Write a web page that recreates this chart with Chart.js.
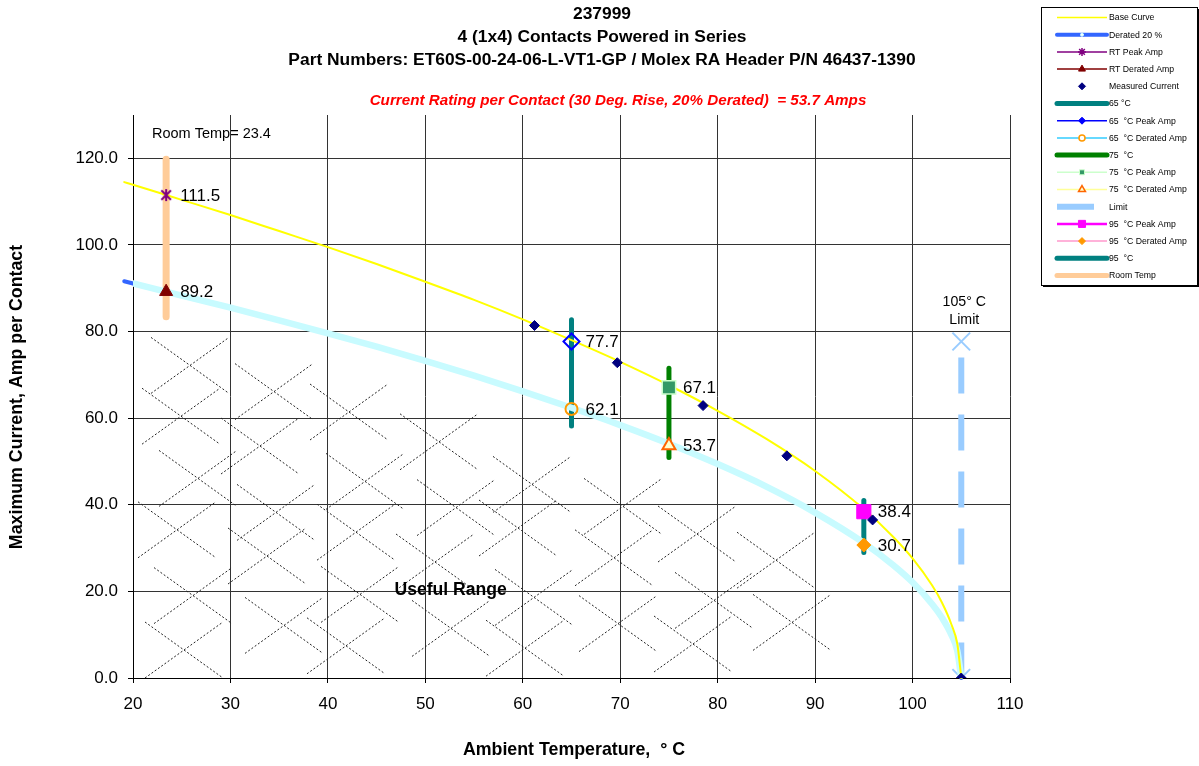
<!DOCTYPE html>
<html>
<head>
<meta charset="utf-8">
<script src="https://cdn.jsdelivr.net/npm/chart.js@4.4.0/dist/chart.umd.min.js"></script>
<style>
  html, body { margin: 0; padding: 0; background: #fff; }
</style>
</head>
<body>
<canvas id="chart" width="1199" height="766"></canvas>
<script>
// temperatures (deg C) for the two rating curves
const temps = [19.1, 20, 25, 30, 35, 40, 45, 50, 55, 60, 65, 70, 75, 80, 85, 90, 95, 98, 100, 102, 103, 104, 104.6, 105];
const baseCurve = [114.5, 113.9, 110.4, 106.9, 103.2, 99.5, 95.6, 91.5, 87.3, 82.8, 78.0, 73.0, 67.6, 61.7, 55.2, 47.8, 39.0, 32.6, 27.6, 21.4, 17.5, 12.3, 7.8, 0];
const derated = [91.6, 91.1, 88.3, 85.5, 82.6, 79.6, 76.5, 73.2, 69.8, 66.2, 62.4, 58.4, 54.1, 49.4, 44.2, 38.2, 31.2, 26.1, 22.1, 17.1, 14.0, 9.9, 6.2, 0];

const measuredT = [61.2, 69.7, 78.5, 87.1, 95.9, 105];
const measuredA = [81.4, 72.8, 62.9, 51.3, 36.5, 0];

const roomTemp = 23.4;
const roomBar = [83.4, 119.8];
const rtPeak = 111.5;
const rtDerated = 89.2;

const bar65 = [58.2, 82.7];
const peak65 = 77.7;
const derated65 = 62.1;

const bar75 = [50.9, 71.5];
const peak75 = 67.1;
const derated75 = 53.7;

const bar95 = [29.0, 41.0];
const peak95 = 38.4;
const derated95 = 30.7;

const limitT = 105;
const limitRange = [77.7, 0];

const xTicks = [20, 30, 40, 50, 60, 70, 80, 90, 100, 110];
const yTicks = [0, 20, 40, 60, 80, 100, 120];

const FONT = "'Liberation Sans', Arial, Helvetica, sans-serif";

function pts(xs, ys) {
  return xs.map((x, i) => ({ x: x, y: ys[i] }));
}
function vbar(t, range) {
  return range.map(v => ({ x: t, y: v }));
}

// excel style asterisk marker (x plus a vertical stroke)
function asterisk(color, size) {
  const c = document.createElement('canvas');
  c.width = size; c.height = size;
  const g = c.getContext('2d');
  const h = size / 2, r = size / 2 - 1;
  g.strokeStyle = color;
  g.lineWidth = 2;
  g.beginPath();
  g.moveTo(h, h - r); g.lineTo(h, h + r);
  g.moveTo(h - r * 0.8, h - r * 0.8); g.lineTo(h + r * 0.8, h + r * 0.8);
  g.moveTo(h - r * 0.8, h + r * 0.8); g.lineTo(h + r * 0.8, h - r * 0.8);
  g.stroke();
  return c;
}

function lineSet(label, data, color, width, order, extra) {
  return Object.assign({
    label: label, data: data, showLine: true, borderColor: color, backgroundColor: color,
    borderWidth: width, pointRadius: 0, order: order, borderCapStyle: 'round'
  }, extra || {});
}
function markerSet(label, data, style, radius, fill, stroke, bw, order) {
  return {
    label: label, data: data, showLine: false, pointStyle: style, pointRadius: radius,
    pointBackgroundColor: fill, pointBorderColor: stroke, pointBorderWidth: bw,
    backgroundColor: fill, borderColor: stroke, order: order, dataLabel: true
  };
}

const datasets = [
  markerSet('RT Peak Amp', [{ x: roomTemp, y: rtPeak }], asterisk('#800080', 14), 7, '#800080', '#800080', 2, 1),
  markerSet('RT Derated Amp', [{ x: roomTemp, y: rtDerated }], 'triangle', 7.5, '#800000', '#800000', 1, 1),
  markerSet('65 °C Peak Amp', [{ x: 65, y: peak65 }], 'rectRot', 8, 'rgba(0,0,0,0)', '#0000ff', 2, 1),
  markerSet('65 °C Derated Amp', [{ x: 65, y: derated65 }], 'circle', 6, 'rgba(0,0,0,0)', '#ff9900', 2, 1),
  markerSet('75 °C Peak Amp', [{ x: 75, y: peak75 }], 'rect', 9.5, '#339966', '#ccffcc', 1.5, 1),
  markerSet('75 °C Derated Amp', [{ x: 75, y: derated75 }], 'triangle', 7.5, '#ffffcc', '#ff6600', 2, 1),
  markerSet('95 °C Peak Amp', [{ x: 95, y: peak95 }], 'rect', 10, '#ff00ff', '#ff00ff', 1, 1),
  markerSet('95 °C Derated Amp', [{ x: 95, y: derated95 }], 'rectRot', 7, '#ff9900', '#ff9900', 1, 1),
  {
    label: 'Measured Current', data: pts(measuredT, measuredA), showLine: false, pointStyle: 'rectRot',
    pointRadius: 5, pointBackgroundColor: '#000080', pointBorderColor: '#000080', pointBorderWidth: 1, order: 0
  },
  lineSet('Base Curve', pts(temps, baseCurve), '#ffff00', 2, 3, { cubicInterpolationMode: 'monotone', clip: false }),
  lineSet('Derated 20 % cyan', pts(temps.slice(1), derated.slice(1)), '#c8fbff', 6.5, 4, { cubicInterpolationMode: 'monotone' }),
  lineSet('Derated 20 %', pts(temps, derated), '#3366ff', 4, 5, { cubicInterpolationMode: 'monotone', clip: false }),
  lineSet('65 °C', vbar(65, bar65), '#008080', 5, 6),
  lineSet('75 °C', vbar(75, bar75), '#008000', 5, 6),
  lineSet('95 °C', vbar(95, bar95), '#008080', 5, 6),
  lineSet('Room Temp', vbar(roomTemp, roomBar), '#ffcc99', 7, 6),
  lineSet('Limit', vbar(limitT, limitRange), '#99ccff', 6, 7, {
    borderDash: [36, 21], borderDashOffset: 41, borderCapStyle: 'butt',
    pointStyle: 'crossRot', pointRadius: 12.5, pointBorderColor: '#99ccff', pointBorderWidth: 2
  })
];

// legend rows as in the reference box
const legendItems = [
  { text: 'Base Curve', line: '#ffff00', lw: 1.5 },
  { text: 'Derated 20 %', line: '#3366ff', lw: 4, m: { s: 'circle', r: 1.5, f: '#ffffff', c: '#ccffff', bw: 1 } },
  { text: 'RT Peak Amp', line: '#800080', lw: 1.5, m: { s: 'star', r: 4, f: '#800080', c: '#800080', bw: 1.5 } },
  { text: 'RT Derated Amp', line: '#800000', lw: 1.5, m: { s: 'triangle', r: 4, f: '#800000', c: '#800000', bw: 1 } },
  { text: 'Measured Current', m: { s: 'rectRot', r: 3.5, f: '#000080', c: '#000080', bw: 1 } },
  { text: '65 °C', line: '#008080', lw: 5 },
  { text: '65  °C Peak Amp', line: '#0000ff', lw: 1.5, m: { s: 'rectRot', r: 3.5, f: '#0000ff', c: '#0000ff', bw: 1 } },
  { text: '65  °C Derated Amp', line: '#33ccff', lw: 1.5, m: { s: 'circle', r: 3, f: '#ffffff', c: '#ff9900', bw: 1.5 } },
  { text: '75  °C', line: '#008000', lw: 5 },
  { text: '75  °C Peak Amp', line: '#ccffcc', lw: 1.5, m: { s: 'rect', r: 3.5, f: '#339966', c: '#ccffcc', bw: 1 } },
  { text: '75  °C Derated Amp', line: '#ffff99', lw: 1.5, m: { s: 'triangle', r: 4, f: '#ffffcc', c: '#ff6600', bw: 1.5 } },
  { text: 'Limit', line: '#99ccff', lw: 6, short: true },
  { text: '95  °C Peak Amp', line: '#ff00ff', lw: 2.5, m: { s: 'rect', r: 5, f: '#ff00ff', c: '#ff00ff', bw: 1 } },
  { text: '95  °C Derated Amp', line: '#ff99cc', lw: 1.5, m: { s: 'rectRot', r: 3.5, f: '#ff9900', c: '#ff9900', bw: 1 } },
  { text: '95  °C', line: '#008080', lw: 5 },
  { text: 'Room Temp', line: '#ffcc99', lw: 5 }
];

function deratedAt(t) {
  if (t <= temps[0]) return derated[0];
  for (let i = 1; i < temps.length; i++) {
    if (t <= temps[i]) {
      const f = (t - temps[i - 1]) / (temps[i] - temps[i - 1]);
      return derated[i - 1] + f * (derated[i] - derated[i - 1]);
    }
  }
  return 0;
}

// dotted cross hatching of the useful range (decoration only)
const hatchShift = [0, 9, -7, 14, -3, 6, -10, 4];
const hatchPlugin = {
  id: 'hatch',
  beforeDatasetsDraw(chart) {
    const ctx = chart.ctx, a = chart.chartArea;
    const xs = chart.scales.x, ys = chart.scales.y;
    const hw = 39, hh = 28;
    ctx.save();
    ctx.beginPath();
    ctx.rect(a.left, a.top, a.right - a.left, a.bottom - a.top);
    ctx.clip();
    ctx.setLineDash([2, 2]);
    ctx.lineWidth = 1;
    ctx.strokeStyle = '#222';
    for (let i = 0; i < 9; i++) {
      for (let j = 0; j < 12; j++) {
        const cx = 184 + i * 86 + hatchShift[(i * 3 + j) % hatchShift.length];
        const cy = 650 - j * 58 - (i % 2) * 30 + hatchShift[(i + j * 5) % hatchShift.length] * 0.6;
        const t1 = xs.getValueForPixel(cx - hw), t2 = xs.getValueForPixel(cx + hw);
        const yl = ys.getPixelForValue(deratedAt(t1)), yr = ys.getPixelForValue(deratedAt(t2));
        if (cy - hh < Math.max(yl, yr) + 6) continue;
        if (t2 > 95.5) continue;
        ctx.beginPath();
        ctx.moveTo(cx - hw, cy - hh); ctx.lineTo(cx + hw, cy + hh);
        ctx.moveTo(cx - hw, cy + hh); ctx.lineTo(cx + hw, cy - hh);
        ctx.stroke();
      }
    }
    ctx.restore();
  }
};

const textPlugin = {
  id: 'texts',
  afterDatasetsDraw(chart) {
    const ctx = chart.ctx;
    const xs = chart.scales.x, ys = chart.scales.y;
    ctx.save();
    // value labels next to the markers
    ctx.fillStyle = '#000';
    ctx.font = '17px ' + FONT;
    ctx.textAlign = 'left';
    ctx.textBaseline = 'middle';
    chart.data.datasets.forEach((ds, i) => {
      if (!ds.dataLabel) return;
      chart.getDatasetMeta(i).data.forEach((el, k) => {
        ctx.fillText(ds.data[k].y.toFixed(1), el.x + 14, el.y + 1);
      });
    });
    // useful range
    ctx.font = 'bold 17.6px ' + FONT;
    ctx.textAlign = 'center';
    ctx.fillText('Useful Range', xs.getPixelForValue(52.6), ys.getPixelForValue(20.4));
    // room temp note
    ctx.font = '14.5px ' + FONT;
    ctx.textAlign = 'left';
    ctx.fillText('Room Temp= ' + roomTemp, xs.getPixelForValue(21.95), ys.getPixelForValue(125.6));
    // limit note
    ctx.font = '14.2px ' + FONT;
    ctx.textAlign = 'center';
    const lx = xs.getPixelForValue(limitT);
    ctx.fillText('105° C', lx + 3, ys.getValueForPixel ? ys.getPixelForValue(ys.getValueForPixel(302)) : 302);
    ctx.fillText('Limit', lx + 3, ys.getPixelForValue(ys.getValueForPixel(320)));
    ctx.restore();
  },
  afterDraw(chart) {
    const ctx = chart.ctx;
    ctx.save();
    ctx.fillStyle = '#000';
    ctx.textAlign = 'center';
    ctx.textBaseline = 'middle';
    ctx.font = 'bold 17.4px ' + FONT;
    ctx.fillText('237999', 602, 14);
    ctx.fillText('4 (1x4) Contacts Powered in Series', 602, 37);
    ctx.fillText('Part Numbers: ET60S-00-24-06-L-VT1-GP / Molex RA Header P/N 46437-1390', 602, 60);
    ctx.fillStyle = '#ff0000';
    ctx.font = 'italic bold 15.2px ' + FONT;
    ctx.fillText('Current Rating per Contact (30 Deg. Rise, 20% Derated)  = 53.7 Amps', 618, 101);
    // axis titles
    ctx.fillStyle = '#000';
    ctx.font = 'bold 17.8px ' + FONT;
    ctx.fillText('Ambient Temperature,  ° C', 574, 750);
    ctx.save();
    ctx.translate(17, 397);
    ctx.rotate(-Math.PI / 2);
    ctx.fillText('Maximum Current, Amp per Contact', 0, 0);
    ctx.restore();
    // legend box
    const bx = 1041, by = 7, bw = 156, bh = 278;
    ctx.fillStyle = '#000';
    ctx.fillRect(bx + 2, by + bh, bw, 2);
    ctx.fillRect(bx + bw, by + 2, 2, bh);
    ctx.fillStyle = '#fff';
    ctx.fillRect(bx, by, bw, bh);
    ctx.strokeStyle = '#000';
    ctx.lineWidth = 1;
    ctx.strokeRect(bx + 0.5, by + 0.5, bw, bh);
    ctx.font = '8.7px ' + FONT;
    ctx.textAlign = 'left';
    legendItems.forEach((it, i) => {
      const y = 17.5 + i * 17.2;
      if (it.line) {
        ctx.beginPath();
        ctx.strokeStyle = it.line;
        ctx.lineWidth = it.lw;
        ctx.lineCap = it.lw >= 4 && !it.short ? 'round' : 'butt';
        ctx.moveTo(1057, y);
        ctx.lineTo(it.short ? 1094 : 1107, y);
        ctx.stroke();
      }
      if (it.m) {
        ctx.fillStyle = it.m.f;
        ctx.strokeStyle = it.m.c;
        ctx.lineWidth = it.m.bw;
        Chart.helpers.drawPoint(ctx, { pointStyle: it.m.s, radius: it.m.r, rotation: 0, borderWidth: it.m.bw }, 1082, y);
      }
      ctx.fillStyle = '#000';
      ctx.fillText(it.text, 1109, y + 0.5);
    });
    ctx.restore();
  }
};

new Chart(document.getElementById('chart'), {
  type: 'scatter',
  data: { datasets: datasets },
  plugins: [hatchPlugin, textPlugin],
  options: {
    responsive: false,
    animation: false,
    devicePixelRatio: 1,
    layout: { padding: { left: 0, top: 115, right: 189, bottom: 0 } },
    plugins: { legend: { display: false }, tooltip: { enabled: false } },
    scales: {
      x: {
        type: 'linear', min: 20, max: 110,
        afterFit: s => { s.height = 88; },
        afterBuildTicks: s => { s.ticks = xTicks.map(v => ({ value: v })); },
        grid: { color: '#333', lineWidth: 1, tickLength: 5, tickColor: '#000' },
        border: { color: '#000', width: 1 },
        ticks: { color: '#000', font: { family: FONT, size: 17 }, padding: 11, maxRotation: 0, callback: v => String(v) }
      },
      y: {
        type: 'linear', min: 0, max: 130,
        afterFit: s => { s.width = 133; },
        afterBuildTicks: s => { s.ticks = yTicks.map(v => ({ value: v })); },
        grid: { color: '#333', lineWidth: 1, tickLength: 5, tickColor: '#000' },
        border: { color: '#000', width: 1 },
        ticks: { color: '#000', font: { family: FONT, size: 17 }, padding: 10, callback: v => v.toFixed(1) }
      }
    }
  }
});
</script>
</body>
</html>
